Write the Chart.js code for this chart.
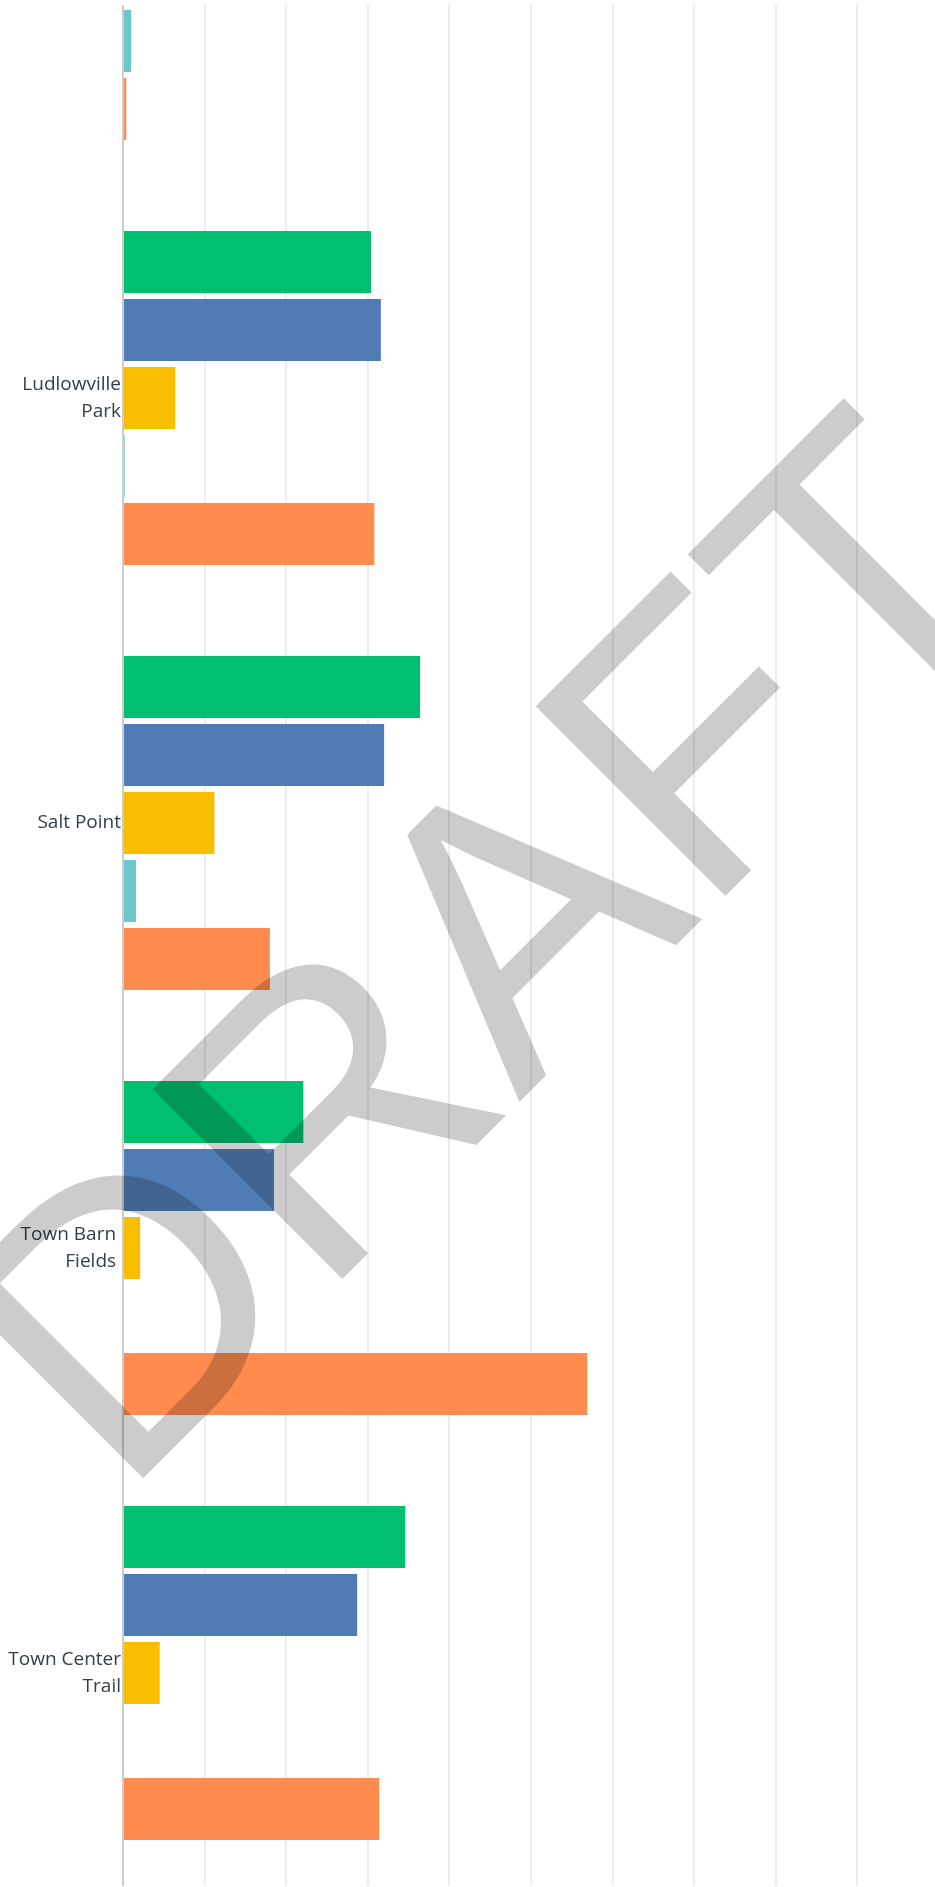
<!DOCTYPE html>
<html lang="en">
  <head>
    <meta charset="UTF-8" />
    <title>Parks – response share</title>
    <script src="https://cdn.jsdelivr.net/npm/chart.js"></script>
    <style>
      html,
      body {
        margin: 0;
        height: 100%;
        overflow: hidden;
        background: #fff;
      }
      /* the chart is taller than the window, only a slice of it is shown */
      #wrap {
        position: absolute;
        left: 0;
        top: 5px;
        width: 935px;
        height: 1882px;
        overflow: hidden;
      }
      #box {
        position: absolute;
        left: 0;
        top: -245px;
        width: 939px;
        height: 2126px;
      }
    </style>
  </head>
  <body>
    <div id="wrap">
      <div id="box"><canvas id="myChart"></canvas></div>
    </div>
    <script>
      // first category is cut off above the window
      const parks = ["", ["Ludlowville", "Park"], ["Salt Point"], ["Town Barn ", "Fields "], ["Town Center", "Trail"]];
      const xTicks = [0, 10, 20, 30, 40, 50, 60, 70, 80, 90, 100];

      // percent of responses
      const series1 = [null, 30.4, 36.4, 22.1, 34.6];
      const series2 = [null, 31.6, 32.0, 18.5, 28.7];
      const series3 = [null, 6.4, 11.2, 2.1, 4.5];
      const series4 = [1.0, 0.2, 1.6, 0, 0.1];
      const series5 = [0.4, 30.8, 18.0, 56.9, 31.4];

      const colors = ["#00bf6f", "#507cb6", "#f9be00", "#6bc8cd", "#ff8b4f"];

      const draftMark = {
        id: "draftMark",
        afterDraw(chart) {
          const ctx = chart.ctx;
          ctx.save();
          ctx.translate(120.6, 1740.8);
          ctx.rotate(-Math.PI / 4);
          ctx.font = '390px "Liberation Sans", Arial, sans-serif';
          ctx.fillStyle = "rgba(0, 0, 0, 0.2)";
          ctx.textAlign = "left";
          ctx.textBaseline = "alphabetic";
          ctx.fillText("DRAFT", 0, 0);
          ctx.restore();
        },
      };

      const allSeries = [series1, series2, series3, series4, series5];
      const datasets = allSeries.map((vals, i) => ({
        label: "Series " + (i + 1),
        data: vals,
        backgroundColor: colors[i],
        borderWidth: 0,
        categoryPercentage: 0.8,
        barPercentage: 62 / 68,
      }));

      new Chart(document.getElementById("myChart"), {
        type: "bar",
        data: { labels: parks, datasets: datasets },
        plugins: [draftMark],
        options: {
          indexAxis: "y",
          responsive: true,
          maintainAspectRatio: false,
          devicePixelRatio: 1,
          animation: false,
          layout: { padding: { top: 0.5, bottom: 0.5, left: 0, right: 0 } },
          plugins: { legend: { display: false }, tooltip: { enabled: false } },
          scales: {
            x: {
              type: "linear",
              min: 0,
              max: 100,
              afterBuildTicks: (scale) => {
                scale.ticks = xTicks.map((v) => ({ value: v }));
              },
              ticks: { display: false },
              grid: {
                color: (c) => (c.index === 0 ? "rgba(0,0,0,0)" : "#ececec"),
                lineWidth: 2,
                drawTicks: false,
              },
              border: { display: false },
              afterFit: (scale) => {
                scale.height = 0;
                scale.paddingLeft = 0;
                scale.paddingRight = 0;
              },
            },
            y: {
              grid: { display: false, drawTicks: false },
              border: { display: true, color: "#cccccc", width: 2 },
              ticks: {
                padding: 2,
                color: "#333e48",
                autoSkip: false,
                font: { family: '"Open Sans", sans-serif', size: 19, lineHeight: 1.42 },
              },
              afterFit: (scale) => {
                scale.width = 123;
                scale.paddingTop = 0;
                scale.paddingBottom = 0;
              },
            },
          },
        },
      });
    </script>
  </body>
</html>
